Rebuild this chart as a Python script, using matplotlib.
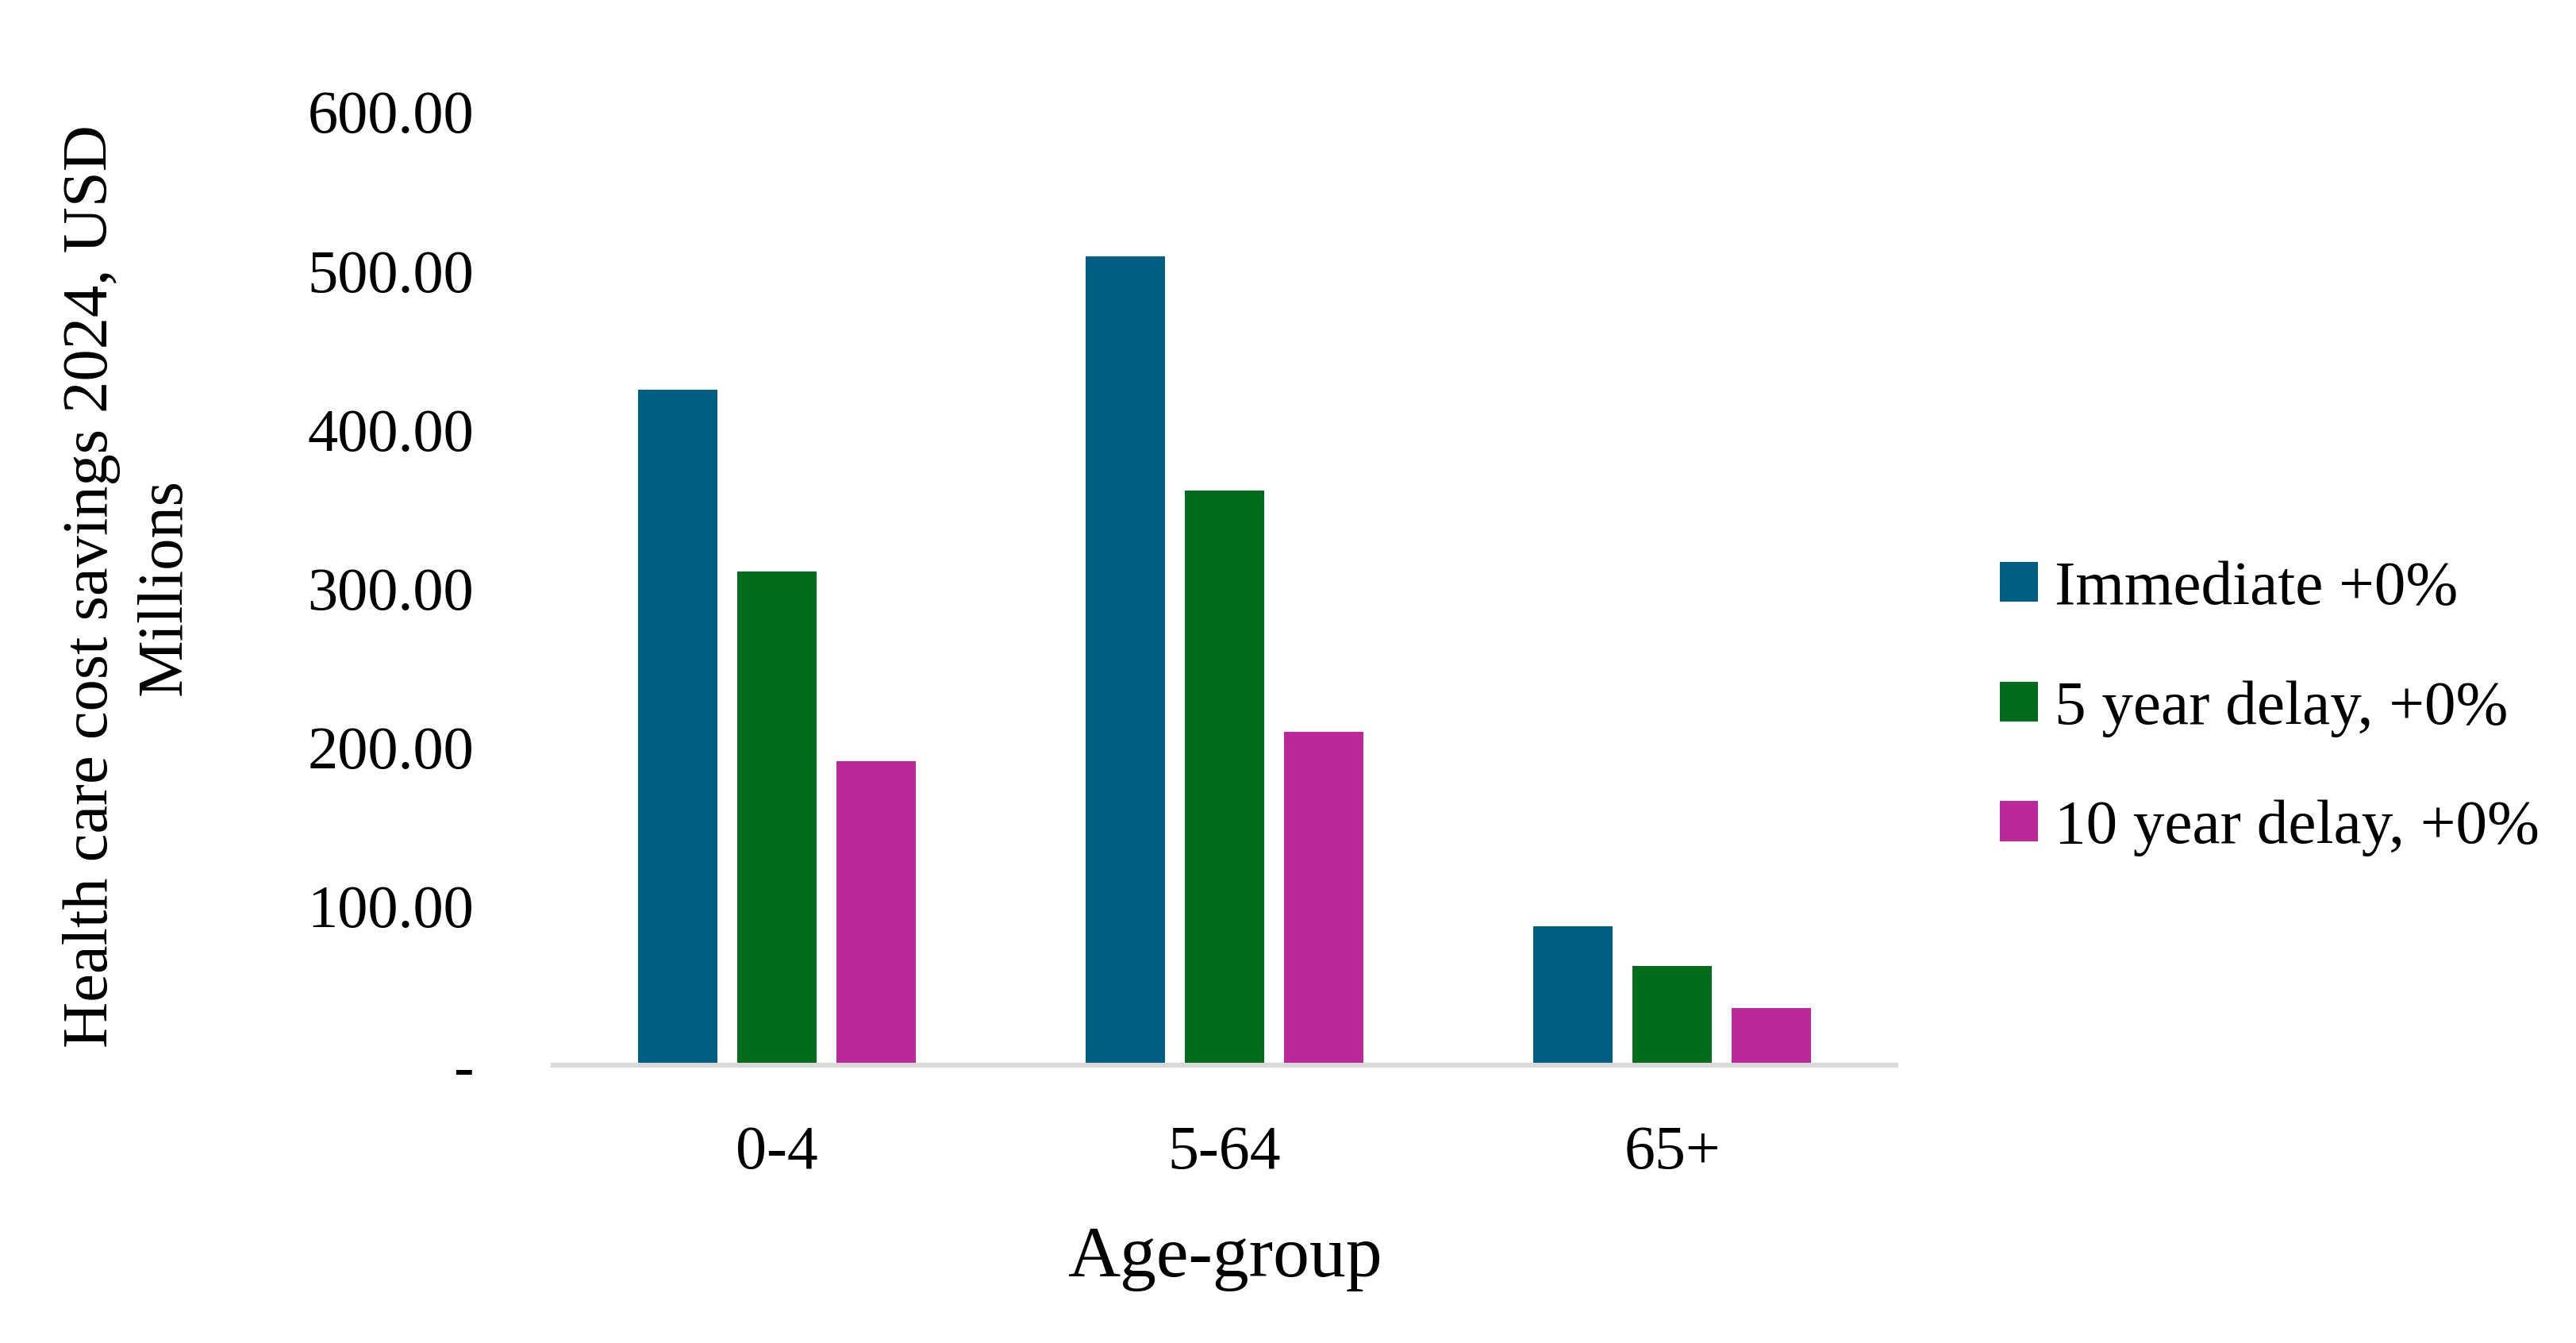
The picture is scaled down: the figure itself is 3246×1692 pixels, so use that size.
import matplotlib
matplotlib.use("Agg")
import matplotlib.pyplot as plt
import numpy as np

age_groups = ["0-4", "5-64", "65+"]
immediate = [425.2, 509.1, 87.2]
delay_5 = [310.6, 361.7, 62.3]
delay_10 = [191.4, 209.7, 36.1]
series_names = ["Immediate +0%", "5 year delay, +0%", "10 year delay, +0%"]
colors = ["#005E83", "#006B1A", "#BA2999"]
y_ticks = [0, 100, 200, 300, 400, 500, 600]

plt.rcParams["font.family"] = ["Liberation Serif", "DejaVu Serif"]

W, H = 3246, 1692
fig = plt.figure(figsize=(W / 200, H / 200), dpi=200)
ax = fig.add_axes([697 / W, 1 - 1342 / H, (2389 - 697) / W, (1342 - 141) / H])

x = np.arange(len(age_groups))
width = 0.177
step = 0.221
for i, (vals, name, c) in enumerate(zip([immediate, delay_5, delay_10], series_names, colors)):
    ax.bar(x + (i - 1) * step, vals, width, color=c, label=name, zorder=2)

ax.set_xlim(-0.5, 2.5)
ax.set_ylim(0, 600)
ax.set_yticks(y_ticks)
ax.set_yticklabels(["-" if v == 0 else f"{v:.2f}" for v in y_ticks])
ax.set_xticks(x)
ax.set_xticklabels(age_groups)

for s in ["top", "right", "left"]:
    ax.spines[s].set_visible(False)
ax.spines["bottom"].set_color("#D9D9D9")
ax.spines["bottom"].set_linewidth(2.2)
ax.spines["bottom"].set_zorder(3)

ax.tick_params(axis="y", length=0, pad=36, labelsize=27.5)
ax.tick_params(axis="x", length=0, pad=27, labelsize=28)

ax.set_xlabel("Age-group", fontsize=33, labelpad=20)

fig.text(162 / W, 1 - 739 / H, "Health care cost savings 2024, USD\nMillions",
         rotation=90, ha="center", va="center", fontsize=29, linespacing=1.36)

fig.legend(loc="center left", bbox_to_anchor=(2520 / W, 1 - 893 / H),
           frameon=False, fontsize=28.5, handlelength=0.6, handleheight=0.6,
           handletextpad=0.27, labelspacing=1.0, borderpad=0, borderaxespad=0)

fig.savefig("out.png", dpi=200)
